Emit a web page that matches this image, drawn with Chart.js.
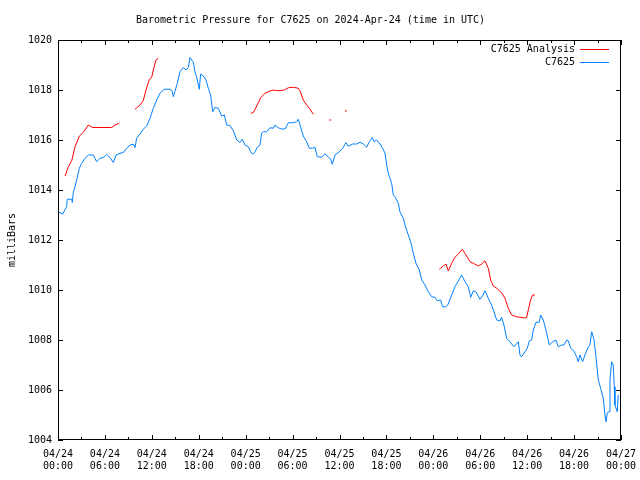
<!DOCTYPE html>
<html>
<head>
<meta charset="utf-8">
<script src="https://cdn.jsdelivr.net/npm/chart.js@4"></script>
<style>
  html, body { margin: 0; padding: 0; background: #fff; }
  canvas { display: block; }
</style>
</head>
<body>
<canvas id="pressure" width="640" height="480"></canvas>
<script>
// hours after 2024-04-24 00:00 UTC, pressure in mb
const stationHours = [
  0.0, 0.6, 1.1, 1.19, 1.75, 1.83, 1.96, 2.17, 2.39, 2.73, 3.03, 3.45, 3.88, 4.52, 4.94, 5.37, 5.8, 6.22,
  6.65, 7.07, 7.42, 7.93, 8.35, 8.78, 9.21, 9.63, 9.85, 10.06, 10.49, 10.9, 11.34, 11.76, 12.19, 12.62,
  13.04, 13.55, 14.32, 14.62, 14.75, 14.96, 15.26, 15.6, 16.03, 16.37, 16.67, 16.88, 17.31, 17.52, 17.73,
  18.07, 18.24, 18.58, 18.93, 19.22, 19.52, 19.78, 20.08, 20.5, 20.93, 21.27, 21.57, 22.0, 22.42, 22.85,
  23.27, 23.57, 23.91, 24.34, 24.64, 24.89, 25.19, 25.49, 25.83, 26.04, 26.26, 26.69, 27.11, 27.54, 27.75,
  28.17, 28.6, 29.03, 29.46, 30.09, 30.52, 30.73, 30.95, 31.37, 31.8, 32.14, 32.57, 32.86, 33.16, 33.72,
  34.14, 34.57, 34.87, 35.08, 35.42, 35.98, 36.4, 36.83, 37.13, 37.68, 38.19, 38.62, 39.04, 39.47, 39.81,
  40.2, 40.41, 40.75, 41.18, 41.52, 41.82, 42.03, 42.24, 42.67, 42.88, 43.09, 43.52, 43.73, 44.16, 44.5,
  44.8, 45.1, 45.44, 45.78, 46.21, 46.51, 46.93, 47.36, 47.79, 48.21, 48.5, 48.93, 49.19, 49.62, 49.91,
  50.34, 50.77, 51.19, 51.62, 52.05, 52.47, 52.78, 53.11, 53.45, 53.96, 54.3, 54.6, 55.03, 55.45, 55.75,
  56.1, 56.52, 56.73, 57.03, 57.37, 57.8, 58.31, 58.87, 59.08, 59.29, 59.72, 60.02, 60.27, 60.57, 60.78,
  61.13, 61.55, 61.72, 62.06, 62.4, 62.83, 63.26, 63.68, 63.98, 64.41, 64.71, 65.05, 65.26, 65.56, 65.98,
  66.33, 66.54, 66.75, 67.09, 67.39, 67.82, 68.03, 68.25, 68.54, 68.8, 69.1, 69.4, 69.74, 69.95, 70.08,
  70.25, 70.5, 70.59, 70.8, 71.0, 71.14, 71.23, 71.52, 71.65
];
const stationPressure = [
  1013.13, 1013.04, 1013.33, 1013.63, 1013.63, 1013.5, 1013.9, 1014.13, 1014.4, 1014.87, 1015.07, 1015.27,
  1015.4, 1015.4, 1015.13, 1015.27, 1015.3, 1015.43, 1015.3, 1015.1, 1015.4, 1015.47, 1015.5, 1015.67,
  1015.8, 1015.83, 1015.7, 1016.07, 1016.24, 1016.43, 1016.56, 1016.87, 1017.27, 1017.6, 1017.87, 1018.03,
  1018.03, 1017.95, 1017.73, 1017.95, 1018.27, 1018.73, 1018.9, 1018.8, 1018.9, 1019.3, 1019.1, 1018.73,
  1018.53, 1018.03, 1018.64, 1018.56, 1018.4, 1018.07, 1017.8, 1017.13, 1017.3, 1017.27, 1016.96, 1017.0,
  1016.6, 1016.57, 1016.37, 1016.0, 1015.9, 1016.03, 1015.8, 1015.73, 1015.53, 1015.43, 1015.53, 1015.71,
  1015.8, 1016.27, 1016.33, 1016.33, 1016.49, 1016.47, 1016.6, 1016.49, 1016.44, 1016.44, 1016.69, 1016.69,
  1016.73, 1016.83, 1016.6, 1016.16, 1015.93, 1015.67, 1015.67, 1015.71, 1015.33, 1015.31, 1015.46, 1015.31,
  1015.24, 1015.03, 1015.4, 1015.53, 1015.67, 1015.89, 1015.75, 1015.84, 1015.84, 1015.91, 1015.84, 1015.71,
  1015.93, 1016.1, 1015.93, 1016.0, 1015.84, 1015.67, 1015.47, 1015.0, 1014.67, 1014.27, 1013.8, 1013.73,
  1013.47, 1013.13, 1012.87, 1012.47, 1012.2, 1011.93, 1011.47, 1011.07, 1010.8, 1010.4, 1010.2, 1009.93,
  1009.73, 1009.71, 1009.57, 1009.6, 1009.33, 1009.33, 1009.44, 1009.8, 1010.13, 1010.36, 1010.6, 1010.33,
  1010.13, 1009.71, 1009.97, 1009.93, 1009.63, 1009.76, 1009.97, 1009.67, 1009.4, 1009.13, 1008.8, 1008.76,
  1008.91, 1008.6, 1008.07, 1007.93, 1007.73, 1007.93, 1007.4, 1007.33, 1007.53, 1007.67, 1007.96, 1008.0,
  1008.4, 1008.71, 1008.71, 1009.0, 1008.8, 1008.4, 1007.8, 1007.93, 1008.0, 1007.73, 1007.8, 1007.8, 1008.0,
  1007.97, 1007.67, 1007.56, 1007.33, 1007.13, 1007.4, 1007.13, 1007.4, 1007.73, 1007.8, 1008.33, 1008.03,
  1007.33, 1006.4, 1006.07, 1005.67, 1005.0, 1004.73, 1005.09, 1005.13, 1006.4, 1007.13, 1007.0, 1006.13,
  1005.4, 1005.13, 1005.8
];

// analysis has gaps (null)
const analysisHours = [
  0.9, 1.32, 1.75, 2.17, 2.73, 3.3, 3.88, 4.43, 5.5, 6.86, 7.29, 7.84, 8.8,
  9.85, 10.49, 10.9, 11.25, 11.68, 11.98, 12.19, 12.53, 12.83, 18.0,
  24.68, 24.98, 25.41, 25.92, 26.47, 27.11, 27.54, 28.17, 28.94, 29.46, 30.09, 30.73, 30.95, 31.37, 31.8,
  32.22, 32.65, 33.5,
  34.7, 34.95, 35.8,
  36.7, 36.95, 42.0,
  48.76, 49.27, 49.62, 49.91, 50.34, 50.77, 51.19, 51.7, 52.18, 52.69, 53.11, 53.75, 54.17, 54.6, 55.03,
  55.33, 55.67, 56.1, 56.73, 57.16, 57.59, 58.01, 58.65, 59.5, 59.93, 60.14, 60.44, 60.69, 61.0
];
const analysisPressure = [
  1014.56, 1014.93, 1015.17, 1015.73, 1016.16, 1016.33, 1016.6, 1016.5, 1016.5, 1016.5, 1016.6, 1016.67, null,
  1017.23, 1017.4, 1017.57, 1018.0, 1018.43, 1018.5, 1018.8, 1019.2, 1019.27, null,
  1017.07, 1017.1, 1017.36, 1017.69, 1017.87, 1017.96, 1018.0, 1017.97, 1018.0, 1018.09, 1018.11, 1018.07,
  1017.97, 1017.6, 1017.4, 1017.24, 1017.03, null,
  1016.8, 1016.8, null,
  1017.16, 1017.16, null,
  1010.83, 1010.96, 1011.04, 1010.76, 1011.07, 1011.31, 1011.44, 1011.63, 1011.4, 1011.13, 1011.07, 1010.96,
  1011.04, 1011.17, 1010.87, 1010.4, 1010.16, 1010.07, 1009.89, 1009.67, 1009.27, 1009.0, 1008.93, 1008.89,
  1008.89, 1009.2, 1009.6, 1009.8, 1009.8
];

const seriesNames = ['C7625 Analysis', 'C7625'];
const seriesColors = ['#ff0000', '#0080ff'];
const yTicks = [1004, 1006, 1008, 1010, 1012, 1014, 1016, 1018, 1020];

const FONT = "'DejaVu Sans Mono', 'Liberation Mono', monospace";

function toPoints(xs, ys) {
  return xs.map((x, i) => ({ x: x, y: ys[i] }));
}

function hourLabel(h) {
  const day = 24 + Math.floor(h / 24);
  const hh = h % 24;
  return ['04/' + day, (hh < 10 ? '0' : '') + hh + ':00'];
}

// gnuplot style frame, inward ticks and key
const framePlugin = {
  id: 'frame',
  afterDraw(chart) {
    const { ctx, chartArea: a, scales } = chart;
    ctx.save();
    ctx.strokeStyle = '#000';
    ctx.lineWidth = 1;
    ctx.beginPath();
    for (let h = 0; h <= 72; h += 3) {
      const x = Math.round(scales.x.getPixelForValue(h)) + 0.5;
      const len = h % 6 === 0 ? 5 : 3;
      ctx.moveTo(x, a.bottom); ctx.lineTo(x, a.bottom - len);
      ctx.moveTo(x, a.top); ctx.lineTo(x, a.top + len);
    }
    yTicks.forEach(v => {
      const y = Math.round(scales.y.getPixelForValue(v)) + 0.5;
      ctx.moveTo(a.left, y); ctx.lineTo(a.left + 5, y);
      ctx.moveTo(a.right, y); ctx.lineTo(a.right - 5, y);
    });
    ctx.stroke();
    ctx.strokeRect(Math.round(a.left) + 0.5, Math.round(a.top) + 0.5,
      Math.round(a.right - a.left) - 1, Math.round(a.bottom - a.top) - 1);

    // key
    ctx.font = '10px ' + FONT;
    ctx.textAlign = 'right';
    ctx.textBaseline = 'middle';
    ctx.fillStyle = '#000';
    seriesNames.forEach((name, i) => {
      const y = a.top + 9 + i * 13;
      ctx.fillText(name, a.right - 46, y);
      ctx.strokeStyle = seriesColors[i];
      ctx.beginPath();
      ctx.moveTo(a.right - 41, y + 0.5);
      ctx.lineTo(a.right - 12, y + 0.5);
      ctx.stroke();
    });
    ctx.restore();
  }
};

const ctx = document.getElementById('pressure');
new Chart(ctx, {
  type: 'line',
  data: {
    datasets: [
      {
        label: seriesNames[0],
        data: toPoints(analysisHours, analysisPressure),
        borderColor: seriesColors[0],
        borderWidth: 1,
        pointRadius: 0,
        spanGaps: false,
        tension: 0,
      },
      {
        label: seriesNames[1],
        data: toPoints(stationHours, stationPressure),
        borderColor: seriesColors[1],
        borderWidth: 1,
        pointRadius: 0,
        spanGaps: false,
        tension: 0,
      },
    ],
  },
  options: {
    responsive: false,
    animation: false,
    devicePixelRatio: 1,
    layout: { padding: { left: 0, right: 19, top: 0, bottom: 0 } },
    plugins: {
      legend: { display: false },
      tooltip: { enabled: false },
      title: {
        display: true,
        text: 'Barometric Pressure for C7625 on 2024-Apr-24 (time in UTC)',
        color: '#000',
        font: { family: FONT, size: 10, weight: 'normal' },
        padding: { top: 14, bottom: 14 },
      },
    },
    scales: {
      x: {
        type: 'linear',
        min: 0,
        max: 72,
        grid: { display: false, drawTicks: false },
        border: { display: false },
        ticks: {
          stepSize: 6,
          maxRotation: 0,
          autoSkip: false,
          padding: 8,
          color: '#000',
          font: { family: FONT, size: 10 },
          callback: (v) => hourLabel(v),
        },
        afterFit: (s) => { s.height = 40; s.paddingLeft = 0; s.paddingRight = 0; },
      },
      y: {
        min: 1004,
        max: 1020,
        grid: { display: false, drawTicks: false },
        border: { display: false },
        ticks: {
          stepSize: 2,
          padding: 6,
          color: '#000',
          font: { family: FONT, size: 10 },
          callback: (v) => String(v),
        },
        title: {
          display: true,
          text: 'milliBars',
          color: '#000',
          font: { family: FONT, size: 10 },
          padding: { top: 6, bottom: 0 },
        },
        afterFit: (s) => { s.width = 58; s.paddingTop = 0; s.paddingBottom = 0; },
      },
    },
  },
  plugins: [framePlugin],
});
</script>
</body>
</html>
